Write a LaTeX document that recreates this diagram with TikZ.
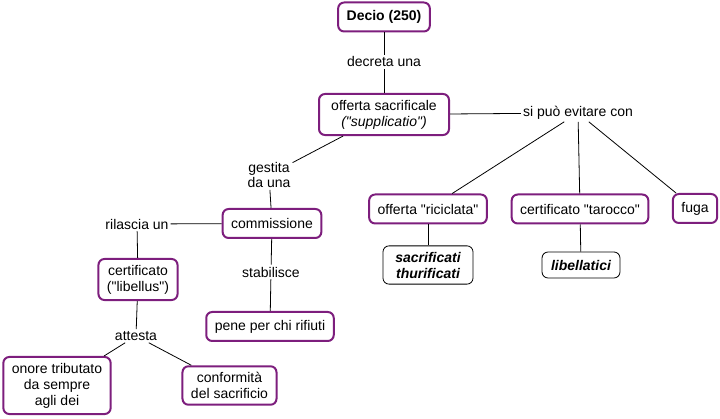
\documentclass[tikz,border=0pt]{standalone}
\usepackage{fontspec}
\setmainfont{Liberation Sans}[Ligatures=TeXOff]
\definecolor{conceptpurple}{RGB}{125,30,125}
\tikzset{
  concept/.style={draw=conceptpurple, line width=2pt, rounded corners=6pt, fill=white,
    align=center, inner xsep=8.5pt, inner ysep=6pt, minimum height=29pt},
  example/.style={draw=black, line width=0.8pt, rounded corners=6pt, fill=white,
    align=center, inner xsep=9pt, inner ysep=6pt, minimum height=26pt,
    font=\fontsize{14}{16}\selectfont\bfseries\itshape},
  linklabel/.style={align=center, inner sep=2pt, font=\fontsize{14}{15}\selectfont},
}
\begin{document}
\begin{tikzpicture}[x=1pt,y=-1pt,font=\fontsize{14}{16}\selectfont]
      \useasboundingbox (0,0) rectangle (720,419);
      % id / x / y / minimum width / text
      \def \Concepts {
        decio/384/17/0/{\textbf{Decio (250)}},
        offerta/384/114.5/130/{offerta sacrificale\\\textit{("supplicatio")}},
        riciclata/428/209/0/{offerta "riciclata"},
        tarocco/580/209/0/{certificato "tarocco"},
        fuga/695/208.5/0/{fuga},
        commissione/272/223.5/0/{commissione},
        certificato/138/279.5/0/{certificato\\("libellus")},
        pene/270/326.5/0/{pene per chi rifiuti},
        onore/57/385.5/0/{onore tributato\\da sempre\\agli dei},
        conformita/229.5/385.5/0/{conformità\\del sacrificio}}
      \def \Examples {
        sacrificati/428/265/90/{sacrificati\\thurificati},
        libellatici/581/265/0/{libellatici}}
      \def \Labels {
        decreta/384/62/{decreta una},
        evitare/578/113/{si può evitare con},
        gestita/269/175/{gestita\\da una},
        rilascia/137/224/{rilascia un},
        stabilisce/271/272/{stabilisce},
        attesta/136/336/{attesta}}
      \def \Edges {
        decio/decreta, decreta/offerta,
        offerta/evitare, evitare/riciclata, evitare/tarocco, evitare/fuga,
        offerta/gestita, gestita/commissione,
        commissione/rilascia, rilascia/certificato,
        commissione/stabilisce, stabilisce/pene,
        certificato/attesta, attesta/onore, attesta/conformita,
        riciclata/sacrificati, tarocco/libellatici}

      \foreach \id / \x / \y / \mw / \w in \Concepts {
        \node[concept, minimum width=\mw pt] (\id) at (\x, \y) {\w};
      }
      \foreach \id / \x / \y / \mw / \w in \Examples {
        \node[example, minimum width=\mw pt] (\id) at (\x, \y) {\w};
      }
      \foreach \id / \x / \y / \w in \Labels {
        \node[linklabel] (\id) at (\x, \y) {\w};
      }
      \foreach \x / \y in \Edges {
        \path[draw,-,line width=0.8pt] (\x) -- (\y);
      }
    \end{tikzpicture}
\end{document}
